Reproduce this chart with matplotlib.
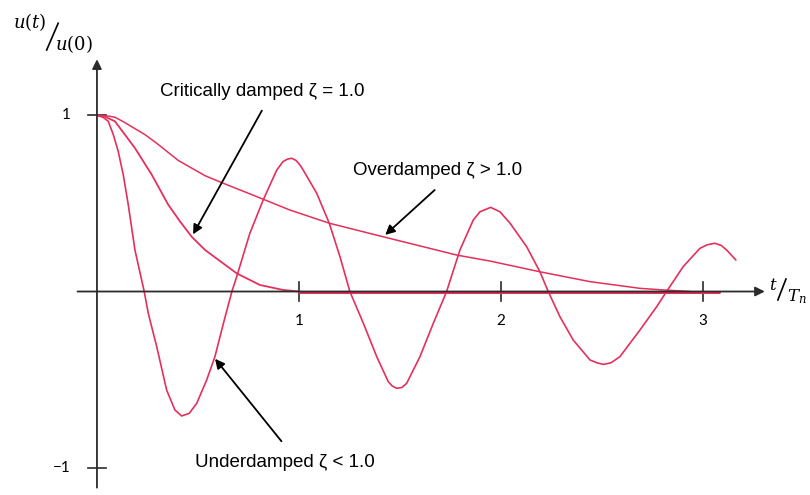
import numpy as np
import matplotlib
matplotlib.use("Agg")
import matplotlib.pyplot as plt

plt.rcParams["mathtext.fontset"] = "dejavuserif"

# response of a single-degree-of-freedom system released from u(0), time in natural periods
under_t = [0, 0.03, 0.056, 0.081, 0.105, 0.130, 0.155, 0.188, 0.234, 0.254, 0.296, 0.345,
           0.386, 0.419, 0.457, 0.494, 0.543, 0.584, 0.626, 0.668, 0.692, 0.757, 0.823,
           0.890, 0.921, 0.943, 0.964, 0.985, 1.005, 1.021, 1.088, 1.150, 1.203, 1.252,
           1.319, 1.385, 1.442, 1.462, 1.484, 1.510, 1.533, 1.599, 1.665, 1.731, 1.797,
           1.863, 1.896, 1.949, 1.995, 2.045, 2.127, 2.193, 2.234, 2.292, 2.358, 2.441,
           2.475, 2.507, 2.545, 2.589, 2.688, 2.771, 2.820, 2.902, 2.985, 3.020, 3.059,
           3.090, 3.117, 3.163]
under_u = [1.0, 0.99, 0.967, 0.891, 0.797, 0.664, 0.493, 0.236, 0.0, -0.124, -0.314, -0.560,
           -0.673, -0.707, -0.692, -0.635, -0.503, -0.370, -0.181, 0.0, 0.085, 0.331, 0.520,
           0.690, 0.738, 0.752, 0.757, 0.745, 0.719, 0.690, 0.558, 0.388, 0.198, 0.0,
           -0.181, -0.370, -0.512, -0.537, -0.550, -0.545, -0.522, -0.370, -0.181, 0.0, 0.236,
           0.406, 0.453, 0.478, 0.453, 0.388, 0.255, 0.112, 0.0, -0.143, -0.276, -0.389,
           -0.405, -0.414, -0.405, -0.370, -0.219, -0.086, 0.0, 0.141, 0.245, 0.265, 0.274,
           0.262, 0.236, 0.179]

crit_t = [0, 0.04, 0.089, 0.188, 0.271, 0.353, 0.410, 0.469, 0.535, 0.692, 0.807, 0.921, 1.0]
crit_u = [1.0, 0.993, 0.967, 0.815, 0.664, 0.493, 0.400, 0.311, 0.236, 0.103, 0.037, 0.009, 0.0]
crit_tail_end = 3.08

over_t = [0, 0.054, 0.089, 0.130, 0.238, 0.296, 0.402, 0.460, 0.535, 0.625, 0.791, 0.955,
          1.150, 1.417, 1.781, 1.946, 2.193, 2.441, 2.688, 2.802, 2.936]
over_u = [1.0, 0.997, 0.99, 0.965, 0.891, 0.842, 0.745, 0.707, 0.658, 0.615, 0.539, 0.463,
          0.388, 0.311, 0.207, 0.173, 0.112, 0.056, 0.018, 0.009, 0.0]

x_ticks = [1, 2, 3]
y_ticks = [1, -1]
y_tick_labels = ["1", "\u22121"]

CURVE = "#e3305c"
AXIS = "#2b2b2b"

fig = plt.figure(figsize=(8.1, 4.95), dpi=100)
ax = fig.add_axes([0, 0, 1, 1])
ax.set_xlim(-0.480, 3.530)
ax.set_ylim(-1.156, 1.656)
ax.axis("off")

# axes with arrow heads
ax.annotate("", xy=(3.32, 0), xytext=(-0.11, 0),
            arrowprops=dict(arrowstyle="-|>", color=AXIS, lw=1.3, mutation_scale=14))
ax.annotate("", xy=(0, 1.335), xytext=(0, -1.13),
            arrowprops=dict(arrowstyle="-|>", color=AXIS, lw=1.3, mutation_scale=14))

for t in x_ticks:
    ax.plot([t, t], [-0.055, 0.055], color=AXIS, lw=1.2)
    ax.text(t, -0.17, str(t), ha="center", va="center", fontsize=11, family="Lato")
for v, lab in zip(y_ticks, y_tick_labels):
    ax.plot([-0.045, 0.045], [v, v], color=AXIS, lw=1.2)
    ax.text(-0.13, v, lab, ha="right", va="center", fontsize=11, family="Lato")

line_kw = dict(color=CURVE, solid_joinstyle="round", solid_capstyle="round")
ax.plot(crit_t, crit_u, lw=1.3, **line_kw)
ax.plot([crit_t[-1], crit_tail_end], [0, 0], lw=2.2, **line_kw)
ax.plot(over_t, over_u, lw=1.1, **line_kw)
ax.plot(under_t, under_u, lw=1.2, **line_kw)

# axis titles written as slanted fractions
ax.text(-0.332, 1.531, "$u(t)$", ha="center", va="center", fontsize=13)
ax.plot([-0.249, -0.192], [1.372, 1.524], color="black", lw=1.2)
ax.text(-0.114, 1.405, "$u(0)$", ha="center", va="center", fontsize=13)
ax.text(3.347, 0.037, "$t$", ha="center", va="center", fontsize=12)
ax.plot([3.371, 3.411], [-0.048, 0.071], color="black", lw=1.2)
ax.text(3.418, -0.030, "$T_n$", ha="left", va="center", fontsize=12)

arrow = dict(arrowstyle="-|>", color="black", lw=1.3, mutation_scale=14)
txt = dict(fontsize=13.5, family="Liberation Sans", va="center")
ax.text(0.312, 1.139, "Critically damped \u03b6 = 1.0", ha="left", **txt)
ax.annotate("", xy=(0.469, 0.311), xytext=(0.823, 1.041), arrowprops=arrow)
ax.text(1.267, 0.690, "Overdamped \u03b6 > 1.0", ha="left", **txt)
ax.annotate("", xy=(1.417, 0.311), xytext=(1.682, 0.587), arrowprops=arrow)
ax.text(0.485, -0.974, "Underdamped \u03b6 < 1.0", ha="left", **txt)
ax.annotate("", xy=(0.576, -0.370), xytext=(0.922, -0.863), arrowprops=arrow)

fig.savefig("out.png", dpi=100)
